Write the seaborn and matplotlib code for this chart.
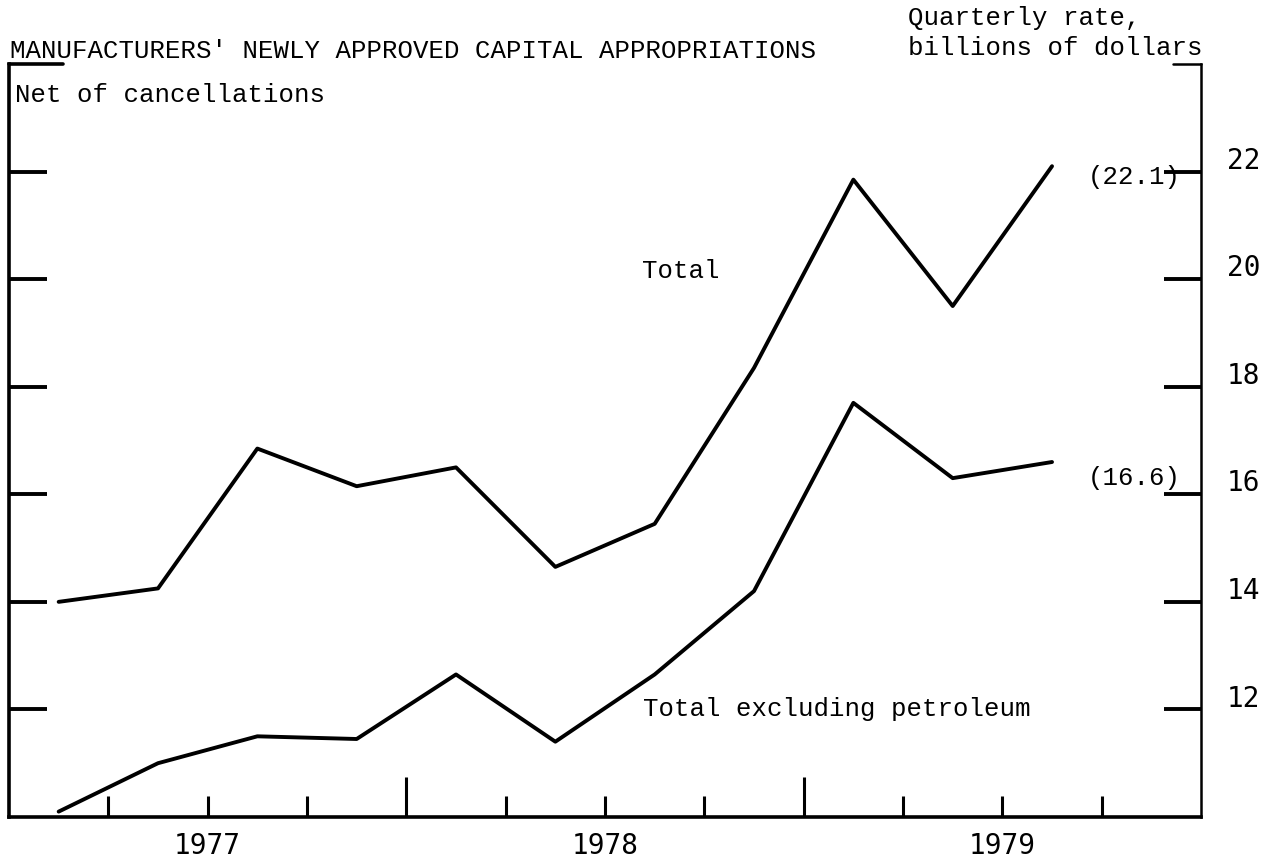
import numpy as np
import pandas as pd
import seaborn as sns
import matplotlib.pyplot as plt
from matplotlib.transforms import ScaledTranslation

# quarterly data, 1977Q1 .. 1979Q3 (x = quarter index, centred in the quarter)
quarter = [0.5, 1.5, 2.5, 3.5, 4.5, 5.5, 6.5, 7.5, 8.5, 9.5, 10.5]
total = [14.0, 14.25, 16.85, 16.15, 16.5, 14.65, 15.45, 18.35, 21.85, 19.5, 22.1]
excl_petroleum = [10.1, 11.0, 11.5, 11.45, 12.65, 11.4, 12.65, 14.2, 17.7, 16.3, 16.6]

years = ['1977', '1978', '1979']
year_pos = [2, 6, 10]
quarter_ticks = [1, 3, 5, 7, 9, 11]
year_breaks = [4, 8]
yticks = [12, 14, 16, 18, 20, 22]

sns.set_style("white", rc={'text.color': 'black', 'axes.edgecolor': 'black',
                           'xtick.color': 'black', 'ytick.color': 'black',
                           'axes.labelcolor': 'black'})
plt.rcParams['font.family'] = ['Liberation Mono', 'DejaVu Sans Mono']
mono = ['Liberation Mono', 'DejaVu Sans Mono']
nums = ['Liberation Sans Narrow', 'DejaVu Sans Mono']

df = pd.DataFrame({'quarter': quarter, 'Total': total,
                   'Total excluding petroleum': excl_petroleum})

fig = plt.figure(figsize=(12.76, 8.58), dpi=100)
ax = fig.add_axes([0.00705, 0.0478, 0.9342, 0.8776])

sns.lineplot(data=df, x='quarter', y='Total', color='black', lw=2.8, ax=ax)
sns.lineplot(data=df, x='quarter', y='Total excluding petroleum', color='black', lw=2.8, ax=ax)

ax.set_xlim(0, 12)
ax.set_ylim(10, 24)
ax.set_xlabel('')
ax.set_ylabel('')

# spines
ax.spines['top'].set_visible(False)
for s in ['left', 'bottom']:
    ax.spines[s].set_linewidth(2.6)
ax.spines['right'].set_linewidth(1.8)
ax.plot([0, 0.045], [1, 1], transform=ax.transAxes, color='black', lw=2.6, clip_on=False)
ax.plot([0.9765, 1.0], [1, 1], transform=ax.transAxes, color='black', lw=1.8, clip_on=False)

# x ticks: year labels + quarter ticks, taller ticks at year breaks
ax.set_xticks(year_pos)
ax.set_xticklabels(years)
ax.set_xticks(quarter_ticks, minor=True)
ax.tick_params(axis='x', which='both', direction='in', length=15, width=2.2,
               bottom=True, top=False, pad=11, labelsize=20, colors='black')
for lbl in ax.get_xticklabels():
    lbl.set_family(nums)
sec = ax.secondary_xaxis('bottom')
sec.set_xticks(year_breaks)
sec.set_xticklabels(['', ''])
sec.tick_params(direction='in', length=29, width=2.2, colors='black')
sec.spines['bottom'].set_visible(False)

# y ticks: marks on both sides, labels on right only
ax.set_yticks(yticks)
ax.tick_params(axis='y', which='major', direction='in', length=27, width=2.8,
               left=True, right=True, labelleft=False, labelright=True,
               pad=18.5, labelsize=20, colors='black')
offset = ScaledTranslation(0, 10 / 72, fig.dpi_scale_trans)
for lbl in ax.get_yticklabels():
    lbl.set_family(nums)
    lbl.set_transform(lbl.get_transform() + offset)

# line labels
fs = 18.5
ax.text(6.37, 20.15, 'Total', fontsize=fs, family=mono, va='center', color='black')
ax.text(6.38, 12.0, 'Total excluding petroleum', fontsize=fs, family=mono, va='center', color='black')
ax.text(10.86, 21.9, '(22.1)', fontsize=fs, family=mono, va='center', color='black')
ax.text(10.86, 16.3, '(16.6)', fontsize=fs, family=mono, va='center', color='black')

# headings
fig.text(0.0078, 0.9324, "MANUFACTURERS' NEWLY APPROVED CAPITAL APPROPRIATIONS",
         fontsize=fs, family=mono, va='baseline', color='black')
fig.text(0.0118, 0.881, 'Net of cancellations', fontsize=fs, family=mono, va='baseline', color='black')
fig.text(0.7116, 0.9709, 'Quarterly rate,', fontsize=fs, family=mono, va='baseline', color='black')
fig.text(0.7116, 0.9359, 'billions of dollars', fontsize=fs, family=mono, va='baseline', color='black')

plt.savefig('out.png', dpi=100)
